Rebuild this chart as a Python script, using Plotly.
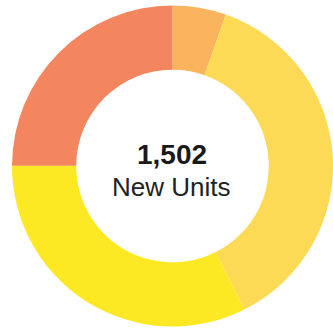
import plotly.graph_objects as go

labels = ["Segment A", "Segment B", "Segment C", "Segment D"]
values = [81, 559, 487, 375]
colors = ["#FBB45E", "#FDDA55", "#FDE923", "#F4865F"]
total_label = "1,502"
sub_label = "New Units"

fig = go.Figure(go.Pie(
    labels=labels,
    values=values,
    hole=0.6,
    sort=False,
    direction="clockwise",
    rotation=0,
    marker=dict(colors=colors, line=dict(width=0)),
    textinfo="none",
    hoverinfo="label+value",
    domain=dict(x=[0.036, 1.0], y=[0.009, 0.988]),
    showlegend=False,
))

fig.add_annotation(text="<b>" + total_label + "</b>", x=0.518, y=0.532, xref="paper", yref="paper",
                   showarrow=False, font=dict(family="Liberation Sans, Arial", size=28, color="#1a1a1a"),
                   xanchor="center", yanchor="middle")
fig.add_annotation(text=sub_label, x=0.514, y=0.435, xref="paper", yref="paper",
                   showarrow=False, font=dict(family="Liberation Sans, Arial", size=26, color="#222222"),
                   xanchor="center", yanchor="middle")

fig.update_layout(
    width=333, height=331,
    margin=dict(l=0, r=0, t=0, b=0),
    paper_bgcolor="white", plot_bgcolor="white",
)

fig.write_html("out.html")
